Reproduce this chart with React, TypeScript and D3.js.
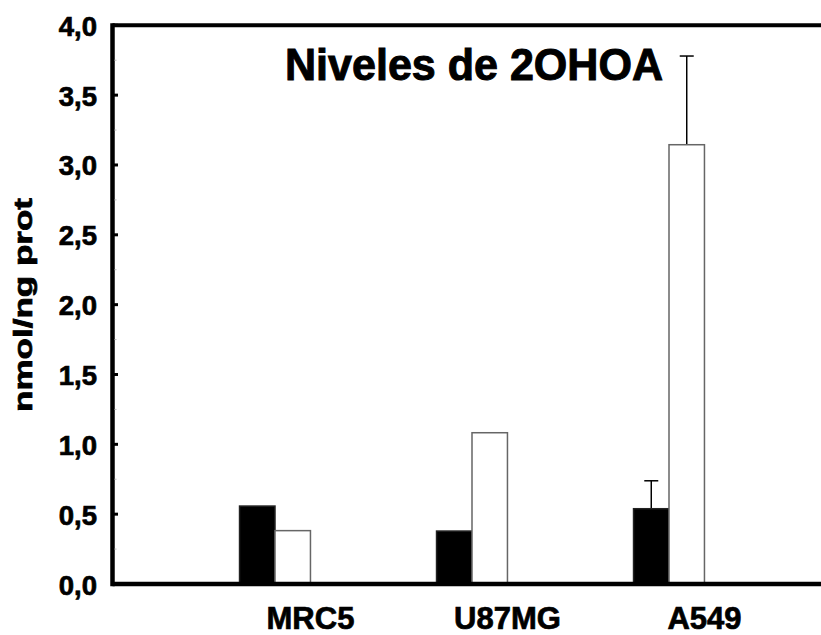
import React from "react";
import * as d3 from "d3";

const categories = ["MRC5", "U87MG", "A549"];
const series = ["control", "2OHOA"];
const controlValues = [0.558, 0.379, 0.539];
const treatedValues = [0.382, 1.083, 3.145];
const controlErrors = [null, null, 0.2];
const treatedErrors = [null, null, 0.635];
const yTicks = [0, 0.5, 1, 1.5, 2, 2.5, 3, 3.5, 4];
const yMinorTicks = [0.25, 0.75, 1.25, 1.75, 2.25, 2.75, 3.25, 3.75];
const yTickLabels = ["0,0", "0,5", "1,0", "1,5", "2,0", "2,5", "3,0", "3,5", "4,0"];
const title = "Niveles de 2OHOA";
const yLabel = "nmol/ng prot";

const W = 821;
const H = 635;
const FONT = "'Liberation Sans', Arial, Helvetica, sans-serif";

export default function App() {
  const axisX = 112.5;
  const y = d3.scaleLinear().domain([0, 4]).range([584, 25.3]);
  const x = d3
    .scaleBand<string>()
    .domain(categories)
    .range([176.5, 767.5])
    .paddingInner(0.64)
    .paddingOuter(0.32);
  const xs = d3.scaleBand<string>().domain(series).range([0, x.bandwidth()]);

  const values = [controlValues, treatedValues];
  const errors = [controlErrors, treatedErrors];

  const textStyle = {
    fontFamily: FONT,
    fontWeight: "bold" as const,
    fill: "#000",
    stroke: "#000",
    strokeWidth: 0.7,
  };

  return (
    <svg
      width={W}
      height={H}
      style={{ position: "absolute", left: 0, top: 0, background: "#fff" }}
    >
      <rect x={0} y={0} width={W} height={H} fill="#fff" />
      {/* bars */}
      {categories.map((c, i) =>
        series.map((s, j) => {
          const v = values[j][i];
          const bx = (x(c) ?? 0) + (xs(s) ?? 0);
          const bw = xs.bandwidth();
          const top = y(v);
          const base = y(0);
          const err = errors[j][i];
          const cx = bx + bw / 2;
          return (
            <g key={c + s}>
              {err != null && (
                <g stroke="#000" strokeWidth={1.5}>
                  <line x1={cx} x2={cx} y1={top} y2={y(v + err)} />
                  <line x1={cx - 7} x2={cx + 7} y1={y(v + err)} y2={y(v + err)} />
                </g>
              )}
              <rect
                x={bx}
                y={top}
                width={bw}
                height={base - top}
                fill={j === 0 ? "#000" : "#fff"}
                stroke={j === 0 ? "#222" : "#666"}
                strokeWidth={1.5}
              />
            </g>
          );
        })
      )}
      {/* frame lines */}
      <line x1={axisX} x2={W} y1={y(4)} y2={y(4)} stroke="#000" strokeWidth={4} />
      <line x1={axisX} x2={W} y1={y(0)} y2={y(0)} stroke="#000" strokeWidth={4.5} />
      <line x1={axisX} x2={axisX} y1={y(4) - 2} y2={y(0) + 2.25} stroke="#000" strokeWidth={4.5} />
      {/* ticks */}
      {yMinorTicks.map((t) => (
        <line key={"m" + t} x1={axisX + 2} x2={axisX + 4} y1={y(t)} y2={y(t)} stroke="#bbb" strokeWidth={1} />
      ))}
      {yTicks.map((t, i) => (
        <g key={"t" + t}>
          <line x1={axisX} x2={axisX + 5.5} y1={y(t)} y2={y(t)} stroke="#000" strokeWidth={3} />
          <text x={97} y={y(t) + 10.5} textAnchor="end" fontSize={27.5} style={textStyle}>
            {yTickLabels[i]}
          </text>
        </g>
      ))}
      {/* category labels */}
      {categories.map((c) => (
        <text
          key={"l" + c}
          x={(x(c) ?? 0) + x.bandwidth()}
          y={629}
          textAnchor="middle"
          fontSize={31}
          style={textStyle}
        >
          {c}
        </text>
      ))}
      {/* title */}
      <text
        x={285}
        y={80}
        fontSize={45}
        textLength={378}
        lengthAdjust="spacingAndGlyphs"
        style={{ ...textStyle, strokeWidth: 1 }}
      >
        {title}
      </text>
      {/* y label */}
      <text
        transform="translate(32,305) rotate(-90)"
        textAnchor="middle"
        fontSize={25}
        textLength={214}
        lengthAdjust="spacingAndGlyphs"
        style={textStyle}
      >
        {yLabel}
      </text>
    </svg>
  );
}
